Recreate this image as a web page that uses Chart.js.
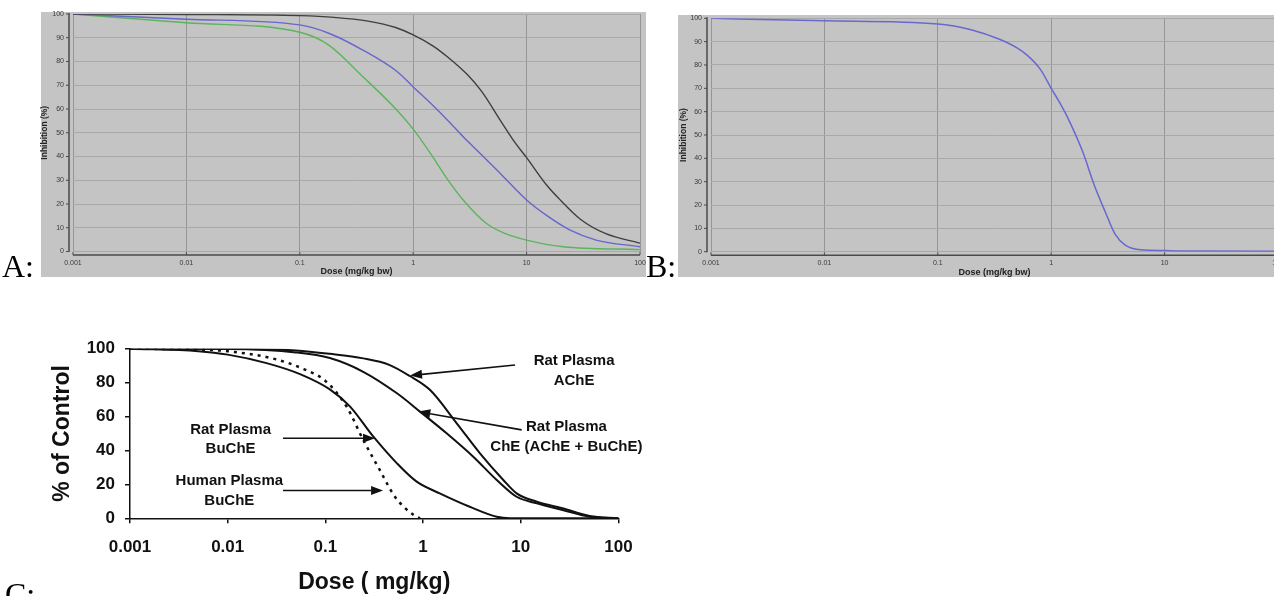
<!DOCTYPE html>
<html>
<head>
<meta charset="utf-8">
<script src="https://cdn.jsdelivr.net/npm/chart.js@4.4.1/dist/chart.umd.min.js"></script>
<style>
  html, body { margin: 0; padding: 0; background: #fff; }
  body { position: relative; width: 1274px; height: 596px; overflow: hidden; }
  canvas { position: absolute; }
  .tag { position: absolute; font-family: 'Liberation Serif', serif; font-size: 32px; line-height: 32px; color: #000; }
</style>
</head>
<body>
<canvas id="chartA" width="646" height="290" style="left:0;top:0"></canvas>
<canvas id="chartB" width="660" height="290" style="left:646px;top:0"></canvas>
<canvas id="chartC" width="660" height="306" style="left:0;top:290px"></canvas>
<div class="tag" style="left:2px;top:250px">A:</div>
<div class="tag" style="left:646px;top:250px">B:</div>
<div class="tag" style="left:5px;top:578px">C:</div>

<script>
// shared ticks
const X_TICKS = [0.001, 0.01, 0.1, 1, 10, 100];
const Y_TICKS_AB = [0, 10, 20, 30, 40, 50, 60, 70, 80, 90, 100];
const Y_TICKS_C = [0, 20, 40, 60, 80, 100];

// panel A - inhibition (%) vs dose
const A_BLACK_DOSE = [0.001, 0.01, 0.1, 0.2, 0.4, 0.7, 1, 1.5, 2, 3, 4, 6, 8, 10, 15, 20, 30, 50, 100];
const A_BLACK_INH = [100, 99.8, 99.3, 98.6, 97, 94.3, 91.2, 86.5, 82, 74.5, 67.5, 54.5, 45.5, 39.5, 28, 21.5, 13.5, 7.5, 3.5];
const A_BLUE_DOSE = [0.001, 0.01, 0.1, 0.18, 0.36, 0.72, 1, 1.41, 2, 2.76, 3.9, 6.25, 10, 15, 24, 41, 100];
const A_BLUE_INH = [100, 97.8, 95.4, 91.9, 84.8, 75.8, 69.3, 62.6, 55.4, 48.3, 41.3, 31.5, 21.7, 15.2, 9.1, 4.8, 2];
const A_GREEN_DOSE = [0.001, 0.01, 0.1, 0.18, 0.36, 0.72, 1, 1.41, 2, 2.76, 4.4, 6.5, 10, 21, 100];
const A_GREEN_INH = [100, 96.3, 92.3, 86.9, 73.6, 59.5, 51.5, 41.5, 30.5, 21.7, 11.9, 7.5, 4.8, 2, 0.8];

// panel B
const B_DOSE = [0.001, 0.01, 0.1, 0.2, 0.35, 0.5, 0.62, 0.8, 1, 1.2, 1.38, 1.89, 2.4, 3, 3.66, 4.5, 6.2, 10, 13, 100];
const B_INH = [100, 98.9, 97.6, 95, 91, 87.3, 84, 78.2, 70, 63.5, 58, 43, 28.5, 17, 7.5, 2.8, 0.8, 0.5, 0.3, 0.2];

// panel C - % of control
const C_ACHE_DOSE = [0.001, 0.01, 0.05, 0.111, 0.244, 0.45, 0.73, 1.18, 2.21, 3.82, 6.62, 9.06, 14.6, 26.7, 50.9, 100];
const C_ACHE = [100, 100, 99, 97, 94.3, 90.5, 83.9, 75.6, 56, 38.3, 22.6, 14.7, 9.8, 5.9, 1.4, 0];
const C_CHE_DOSE = [0.001, 0.01, 0.05, 0.111, 0.244, 0.54, 0.93, 1.74, 3.26, 5.67, 9.06, 14.6, 26.7, 50.9, 100];
const C_CHE = [100, 99.8, 97.8, 94.5, 86.4, 73.7, 62.9, 50.1, 36.3, 22.6, 12.7, 8.8, 4.9, 0.9, 0];
const C_RATBU_DOSE = [0.001, 0.005, 0.01, 0.025, 0.055, 0.111, 0.178, 0.31, 0.54, 0.86, 1.48, 3, 5.67, 7.7, 100];
const C_RATBU = [100, 98.5, 96.5, 91.5, 85, 76, 66, 48.1, 32.4, 21.6, 14.7, 6.8, 0.9, 0, 0];
const C_HUMAN_DOSE = [0.001, 0.005, 0.01, 0.03, 0.06, 0.1, 0.165, 0.244, 0.36, 0.515, 0.8, 0.93];
const C_HUMAN = [100, 99.5, 98.5, 94, 88, 81, 65.8, 46.2, 28.5, 12.7, 1.9, 0];

const C_LABELS = [
  { lines: ['Rat Plasma', 'AChE'], at: [35.1, 92.7] },
  { lines: ['Rat Plasma', 'ChE (AChE + BuChE)'], at: [29.3, 54.0] },
  { lines: ['Rat Plasma', 'BuChE'], at: [0.0107, 52.4] },
  { lines: ['Human Plasma', 'BuChE'], at: [0.0104, 22.0] },
];
const C_ARROWS = [
  { from: [8.73, 90.4], to: [0.735, 84.2] },
  { from: [10.2, 52.1], to: [0.893, 62.9] },
  { from: [0.0368, 47.2], to: [0.322, 47.2] },
  { from: [0.0368, 16.4], to: [0.389, 16.4] },
];

const pts = (xs, ys) => xs.map((x, i) => ({ x, y: ys[i] }));
const SANS = 'Liberation Sans';

function panelBg(rect, color) {
  return {
    id: 'panelBg',
    beforeDraw(chart) {
      const { ctx } = chart;
      ctx.save();
      ctx.fillStyle = color;
      ctx.fillRect(rect.x, rect.y, rect.w, rect.h);
      ctx.restore();
    },
  };
}

// the grey charts have their axes drawn a few px away from the plot area
function offsetAxes(gapLeft, gapBottom) {
  return {
    id: 'offsetAxes',
    afterDraw(chart) {
      const { ctx, chartArea: a, scales: { x, y } } = chart;
      const ax = a.left - gapLeft;
      const ay = a.bottom + gapBottom;
      ctx.save();
      ctx.strokeStyle = '#4a4a4a';
      ctx.lineWidth = 1.5;
      ctx.beginPath();
      ctx.moveTo(ax, a.top - 1);
      ctx.lineTo(ax, a.bottom + 0.5);
      ctx.moveTo(a.left, ay);
      ctx.lineTo(a.right, ay);
      ctx.stroke();
      ctx.lineWidth = 1;
      ctx.beginPath();
      y.ticks.forEach(t => {
        const p = y.getPixelForValue(t.value);
        ctx.moveTo(ax - 3, p);
        ctx.lineTo(ax, p);
      });
      x.ticks.forEach(t => {
        const p = x.getPixelForValue(t.value);
        ctx.moveTo(p, ay);
        ctx.lineTo(p, ay - 3);
      });
      ctx.stroke();
      ctx.restore();
    },
  };
}

function greyScales(o) {
  return {
    x: {
      type: 'logarithmic',
      min: 0.001,
      max: 100,
      afterBuildTicks: s => { s.ticks = X_TICKS.map(v => ({ value: v })); },
      afterFit: s => {
        s.height = o.xHeight;
        s.paddingLeft = 0;
        s.paddingRight = 0;
      },
      grid: { color: '#959595', lineWidth: 1, drawTicks: false },
      border: { display: false },
      ticks: {
        color: '#3a3a3a',
        font: { family: SANS, size: 7 },
        padding: 7,
        maxRotation: 0,
        autoSkip: false,
        callback: v => String(v),
      },
      title: {
        display: true,
        text: 'Dose (mg/kg bw)',
        color: '#222',
        font: { family: SANS, size: 9, weight: 'bold' },
        padding: { top: 0, bottom: o.xTitlePad },
      },
    },
    y: {
      min: 0,
      max: 100,
      afterBuildTicks: s => { s.ticks = Y_TICKS_AB.map(v => ({ value: v })); },
      afterFit: s => { s.width = o.yWidth; },
      grid: { color: '#a9a9a9', lineWidth: 1, drawTicks: false },
      border: { display: false },
      ticks: { color: '#3a3a3a', font: { family: SANS, size: 7 }, padding: 9 },
      title: {
        display: true,
        text: 'Inhibition (%)',
        color: '#222',
        font: { family: SANS, size: 8.5, weight: 'bold' },
        padding: { top: o.yTitlePad, bottom: 0 },
      },
    },
  };
}

const baseOpts = {
  responsive: false,
  animation: false,
  events: [],
  plugins: { legend: { display: false }, tooltip: { enabled: false } },
  elements: { point: { radius: 0 }, line: { tension: 0.4, cubicInterpolationMode: 'monotone' } },
};

new Chart(document.getElementById('chartA'), {
  type: 'line',
  data: {
    datasets: [
      { data: pts(A_BLACK_DOSE, A_BLACK_INH), borderColor: '#3f3f3f', borderWidth: 1.4 },
      { data: pts(A_BLUE_DOSE, A_BLUE_INH), borderColor: '#6666cc', borderWidth: 1.4 },
      { data: pts(A_GREEN_DOSE, A_GREEN_INH), borderColor: '#5cb45c', borderWidth: 1.4 },
    ],
  },
  options: {
    ...baseOpts,
    layout: { padding: { left: 36, top: 14, right: 6, bottom: 0 } },
    scales: greyScales({ xHeight: 38.5, yWidth: 37, xTitlePad: 13, yTitlePad: 3.5 }),
  },
  plugins: [panelBg({ x: 41, y: 12, w: 605, h: 265 }, '#c4c4c4'), offsetAxes(4, 3.5)],
});

new Chart(document.getElementById('chartB'), {
  type: 'line',
  data: {
    datasets: [{ data: pts(B_DOSE, B_INH), borderColor: '#6868d0', borderWidth: 1.5 }],
  },
  options: {
    ...baseOpts,
    layout: { padding: { left: 29, top: 18.3, right: 28, bottom: 0 } },
    scales: greyScales({ xHeight: 38.3, yWidth: 36, xTitlePad: 12.5, yTitlePad: 3.5 }),
  },
  plugins: [panelBg({ x: 32, y: 15, w: 640, h: 262 }, '#c4c4c4'), offsetAxes(4, 3.5)],
});

const cNotes = {
  id: 'cNotes',
  afterDatasetsDraw(chart) {
    const { ctx, scales: { x, y } } = chart;
    const px = d => x.getPixelForValue(d);
    const py = v => y.getPixelForValue(v);
    ctx.save();
    ctx.fillStyle = '#111';
    ctx.strokeStyle = '#111';
    ctx.font = `bold 15px "${SANS}"`;
    ctx.textAlign = 'center';
    ctx.textBaseline = 'middle';
    C_LABELS.forEach(l => {
      const cx = px(l.at[0]);
      const cy = py(l.at[1]);
      l.lines.forEach((t, i) => ctx.fillText(t, cx, cy + i * 19.7));
    });
    ctx.lineWidth = 1.7;
    C_ARROWS.forEach(a => {
      const x0 = px(a.from[0]), y0 = py(a.from[1]);
      const x1 = px(a.to[0]), y1 = py(a.to[1]);
      const ang = Math.atan2(y1 - y0, x1 - x0);
      const len = 12, half = 4.5;
      const bx = x1 - len * Math.cos(ang), by = y1 - len * Math.sin(ang);
      ctx.beginPath();
      ctx.moveTo(x0, y0);
      ctx.lineTo(bx, by);
      ctx.stroke();
      ctx.beginPath();
      ctx.moveTo(x1, y1);
      ctx.lineTo(bx + half * Math.sin(ang), by - half * Math.cos(ang));
      ctx.lineTo(bx - half * Math.sin(ang), by + half * Math.cos(ang));
      ctx.closePath();
      ctx.fill();
    });
    ctx.restore();
  },
};

const boldC = size => ({ family: SANS, size, weight: 'bold' });

new Chart(document.getElementById('chartC'), {
  type: 'line',
  data: {
    datasets: [
      { data: pts(C_ACHE_DOSE, C_ACHE), borderColor: '#111', borderWidth: 2 },
      { data: pts(C_CHE_DOSE, C_CHE), borderColor: '#111', borderWidth: 2 },
      { data: pts(C_RATBU_DOSE, C_RATBU), borderColor: '#111', borderWidth: 2 },
      { data: pts(C_HUMAN_DOSE, C_HUMAN), borderColor: '#111', borderWidth: 2.5, borderDash: [3, 5] },
    ],
  },
  options: {
    ...baseOpts,
    layout: { padding: { left: 40, top: 58.7, right: 41.5, bottom: 0 } },
    scales: {
      x: {
        type: 'logarithmic',
        min: 0.001,
        max: 100,
        afterBuildTicks: s => { s.ticks = X_TICKS.map(v => ({ value: v })); },
        afterFit: s => { s.height = 77.7; },
        grid: { drawOnChartArea: false, tickLength: 5, color: '#111', lineWidth: 1.5 },
        border: { color: '#111', width: 1.5 },
        ticks: { color: '#111', font: boldC(17), padding: 14, maxRotation: 0, autoSkip: false, callback: v => String(v) },
        title: { display: true, text: 'Dose ( mg/kg)', color: '#111', font: boldC(23), padding: { top: 0, bottom: 0 } },
      },
      y: {
        min: 0,
        max: 100,
        afterBuildTicks: s => { s.ticks = Y_TICKS_C.map(v => ({ value: v })); },
        afterFit: s => { s.width = 90; },
        grid: { drawOnChartArea: false, tickLength: 5, color: '#111', lineWidth: 1.5 },
        border: { color: '#111', width: 1.5 },
        ticks: { color: '#111', font: boldC(17), padding: 10 },
        title: { display: true, text: '% of Control', color: '#111', font: boldC(23), padding: { top: 9.2, bottom: 0 } },
      },
    },
  },
  plugins: [cNotes],
});
</script>
</body>
</html>
